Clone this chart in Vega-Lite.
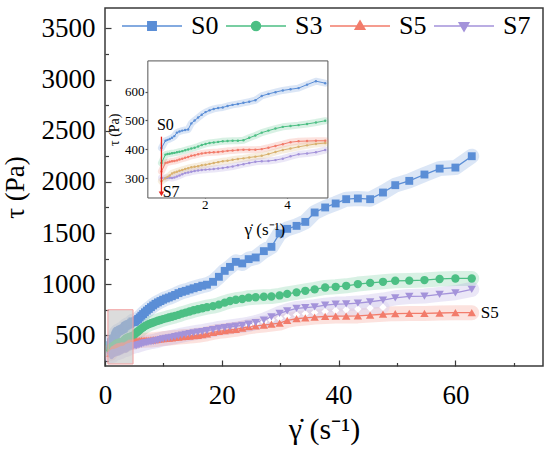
{
  "$schema": "https://vega.github.io/schema/vega-lite/v6.json",
  "width": 438,
  "height": 358,
  "autosize": {"type": "none"},
  "padding": {"left": 105, "top": 8, "right": 7, "bottom": 88},
  "background": "white",
  "datasets": {
    "curves": [
      {"x": 0.95, "S0": 405, "S3": 353, "S5": 324, "S7": 301, "S9": 290},
      {"x": 1.048, "S0": 430, "S3": 382, "S5": 353, "S7": 301, "S9": 300},
      {"x": 1.098, "S0": 433, "S3": 384, "S5": 355, "S7": 302, "S9": 305},
      {"x": 1.151, "S0": 436, "S3": 385, "S5": 357, "S7": 302, "S9": 310},
      {"x": 1.206, "S0": 440, "S3": 387, "S5": 359, "S7": 301, "S9": 317},
      {"x": 1.264, "S0": 446, "S3": 388, "S5": 360, "S7": 303, "S9": 320},
      {"x": 1.325, "S0": 458, "S3": 390, "S5": 362, "S7": 306, "S9": 323},
      {"x": 1.388, "S0": 462, "S3": 392, "S5": 365, "S7": 310, "S9": 326},
      {"x": 1.455, "S0": 465, "S3": 394, "S5": 368, "S7": 314, "S9": 329},
      {"x": 1.525, "S0": 467, "S3": 397, "S5": 371, "S7": 318, "S9": 332},
      {"x": 1.598, "S0": 469, "S3": 400, "S5": 374, "S7": 320, "S9": 335},
      {"x": 1.675, "S0": 490, "S3": 403, "S5": 378, "S7": 323, "S9": 338},
      {"x": 1.755, "S0": 500, "S3": 406, "S5": 380, "S7": 325, "S9": 340},
      {"x": 1.84, "S0": 510, "S3": 410, "S5": 383, "S7": 327, "S9": 342},
      {"x": 1.928, "S0": 520, "S3": 415, "S5": 386, "S7": 329, "S9": 345},
      {"x": 2.02, "S0": 529, "S3": 419, "S5": 388, "S7": 330, "S9": 347},
      {"x": 2.117, "S0": 535, "S3": 422, "S5": 389, "S7": 331, "S9": 350},
      {"x": 2.219, "S0": 540, "S3": 424, "S5": 390, "S7": 332, "S9": 353},
      {"x": 2.326, "S0": 543, "S3": 426, "S5": 391, "S7": 334, "S9": 356},
      {"x": 2.437, "S0": 545, "S3": 428, "S5": 393, "S7": 336, "S9": 359},
      {"x": 2.554, "S0": 550, "S3": 429, "S5": 395, "S7": 338, "S9": 361},
      {"x": 2.677, "S0": 554, "S3": 430, "S5": 396, "S7": 341, "S9": 364},
      {"x": 2.805, "S0": 557, "S3": 430, "S5": 398, "S7": 345, "S9": 367},
      {"x": 2.94, "S0": 561, "S3": 432, "S5": 399, "S7": 349, "S9": 369},
      {"x": 3.081, "S0": 565, "S3": 440, "S5": 399, "S7": 353, "S9": 372},
      {"x": 3.229, "S0": 570, "S3": 448, "S5": 399, "S7": 357, "S9": 375},
      {"x": 3.384, "S0": 585, "S3": 458, "S5": 401, "S7": 359, "S9": 378},
      {"x": 3.547, "S0": 592, "S3": 465, "S5": 406, "S7": 360, "S9": 384},
      {"x": 3.717, "S0": 598, "S3": 472, "S5": 412, "S7": 363, "S9": 391},
      {"x": 3.895, "S0": 604, "S3": 478, "S5": 418, "S7": 368, "S9": 398},
      {"x": 4.082, "S0": 608, "S3": 481, "S5": 425, "S7": 376, "S9": 403},
      {"x": 4.278, "S0": 612, "S3": 484, "S5": 428, "S7": 383, "S9": 409},
      {"x": 4.484, "S0": 624, "S3": 488, "S5": 429, "S7": 386, "S9": 414},
      {"x": 4.699, "S0": 636, "S3": 493, "S5": 430, "S7": 390, "S9": 419},
      {"x": 4.924, "S0": 629, "S3": 499, "S5": 430, "S7": 398, "S9": 422},
      {"x": 5.161, "S0": 635, "S3": 515, "S5": 440, "S7": 398, "S9": 425},
      {"x": 5.408, "S0": 648, "S3": 528, "S5": 443, "S7": 400, "S9": 428},
      {"x": 5.668, "S0": 660, "S3": 540, "S5": 446, "S7": 405, "S9": 432},
      {"x": 5.94, "S0": 675, "S3": 552, "S5": 448, "S7": 410, "S9": 437},
      {"x": 6.225, "S0": 692, "S3": 565, "S5": 450, "S7": 415, "S9": 441},
      {"x": 6.524, "S0": 708, "S3": 578, "S5": 451, "S7": 420, "S9": 446},
      {"x": 6.837, "S0": 725, "S3": 590, "S5": 452, "S7": 425, "S9": 450},
      {"x": 7.165, "S0": 742, "S3": 600, "S5": 453, "S7": 429, "S9": 455},
      {"x": 7.509, "S0": 758, "S3": 610, "S5": 454, "S7": 433, "S9": 459},
      {"x": 7.87, "S0": 775, "S3": 618, "S5": 455, "S7": 437, "S9": 463},
      {"x": 8.247, "S0": 792, "S3": 626, "S5": 457, "S7": 441, "S9": 467},
      {"x": 8.643, "S0": 808, "S3": 634, "S5": 459, "S7": 445, "S9": 471},
      {"x": 9.058, "S0": 822, "S3": 642, "S5": 462, "S7": 450, "S9": 476},
      {"x": 9.493, "S0": 835, "S3": 650, "S5": 465, "S7": 458, "S9": 480},
      {"x": 9.948, "S0": 848, "S3": 658, "S5": 468, "S7": 465, "S9": 485},
      {"x": 10.43, "S0": 860, "S3": 666, "S5": 470, "S7": 470, "S9": 490},
      {"x": 10.93, "S0": 870, "S3": 674, "S5": 473, "S7": 475, "S9": 494},
      {"x": 11.45, "S0": 882, "S3": 682, "S5": 476, "S7": 481, "S9": 499},
      {"x": 12.0, "S0": 895, "S3": 690, "S5": 479, "S7": 487, "S9": 504},
      {"x": 12.58, "S0": 912, "S3": 700, "S5": 482, "S7": 494, "S9": 510},
      {"x": 13.18, "S0": 925, "S3": 712, "S5": 486, "S7": 502, "S9": 515},
      {"x": 13.81, "S0": 935, "S3": 722, "S5": 489, "S7": 509, "S9": 520},
      {"x": 14.48, "S0": 948, "S3": 733, "S5": 492, "S7": 516, "S9": 526},
      {"x": 15.17, "S0": 960, "S3": 745, "S5": 496, "S7": 523, "S9": 532},
      {"x": 15.9, "S0": 972, "S3": 755, "S5": 500, "S7": 530, "S9": 538},
      {"x": 16.66, "S0": 985, "S3": 765, "S5": 507, "S7": 537, "S9": 545},
      {"x": 17.46, "S0": 995, "S3": 775, "S5": 515, "S7": 545, "S9": 552},
      {"x": 18.5, "S0": 1023, "S3": 785, "S5": 528, "S7": 555, "S9": 560},
      {"x": 19.5, "S0": 1072, "S3": 800, "S5": 538, "S7": 568, "S9": 570},
      {"x": 20.5, "S0": 1130, "S3": 820, "S5": 545, "S7": 575, "S9": 572},
      {"x": 21.4, "S0": 1169, "S3": 835, "S5": 552, "S7": 582, "S9": 578},
      {"x": 22.4, "S0": 1218, "S3": 848, "S5": 558, "S7": 590, "S9": 584},
      {"x": 23.5, "S0": 1203, "S3": 855, "S5": 570, "S7": 598, "S9": 590},
      {"x": 24.6, "S0": 1245, "S3": 868, "S5": 584, "S7": 610, "S9": 600},
      {"x": 25.8, "S0": 1261, "S3": 872, "S5": 592, "S7": 625, "S9": 615},
      {"x": 27.2, "S0": 1323, "S3": 877, "S5": 600, "S7": 649, "S9": 632},
      {"x": 28.5, "S0": 1365, "S3": 880, "S5": 610, "S7": 680, "S9": 650},
      {"x": 29.9, "S0": 1496, "S3": 890, "S5": 620, "S7": 715, "S9": 668},
      {"x": 31.2, "S0": 1541, "S3": 905, "S5": 645, "S7": 740, "S9": 685},
      {"x": 32.8, "S0": 1570, "S3": 920, "S5": 662, "S7": 763, "S9": 700},
      {"x": 34.3, "S0": 1609, "S3": 935, "S5": 670, "S7": 770, "S9": 712},
      {"x": 35.9, "S0": 1701, "S3": 949, "S5": 678, "S7": 779, "S9": 722},
      {"x": 37.7, "S0": 1750, "S3": 968, "S5": 684, "S7": 795, "S9": 733},
      {"x": 39.5, "S0": 1789, "S3": 974, "S5": 688, "S7": 805, "S9": 742},
      {"x": 41.3, "S0": 1831, "S3": 984, "S5": 688, "S7": 808, "S9": 750},
      {"x": 43.3, "S0": 1838, "S3": 1001, "S5": 690, "S7": 815, "S9": 758},
      {"x": 45.4, "S0": 1831, "S3": 1013, "S5": 698, "S7": 828, "S9": 766},
      {"x": 47.6, "S0": 1896, "S3": 1023, "S5": 706, "S7": 845, "S9": 774},
      {"x": 49.7, "S0": 1968, "S3": 1033, "S5": 712, "S7": 867},
      {"x": 52.1, "S0": 2010, "S3": 1035, "S5": 714, "S7": 880},
      {"x": 54.7, "S0": 2072, "S3": 1040, "S5": 714, "S7": 884},
      {"x": 57.3, "S0": 2130, "S3": 1051, "S5": 718, "S7": 900},
      {"x": 60.0, "S0": 2140, "S3": 1056, "S5": 721, "S7": 916},
      {"x": 62.8, "S0": 2251, "S3": 1056, "S5": 721, "S7": 949}
    ]
  },
  "data": {"name": "curves"},
  "transform": [
    {"fold": ["S0", "S3", "S5", "S7", "S9"], "as": ["series", "tau"]},
    {"filter": "isValid(datum.tau)"}
  ],
  "config": {
    "view": {"stroke": "#3a3a3a", "strokeWidth": 1.5},
    "font": "Liberation Serif",
    "axis": {
      "grid": false,
      "domain": false,
      "tickColor": "#3a3a3a",
      "tickWidth": 1.2,
      "labelColor": "black",
      "titleColor": "black",
      "labelFont": "Liberation Serif",
      "titleFont": "Liberation Serif",
      "titleFontWeight": "normal",
      "labelFlush": false,
      "labelOverlap": false
    },
    "text": {"font": "Liberation Serif", "color": "black"}
  },
  "resolve": {"scale": {"x": "independent", "y": "independent"}},
  "layer": [
    {
      "layer": [
        {
          "transform": [{"filter": "datum.x < 0"}],
          "mark": {"type": "point", "filled": true, "opacity": 1},
          "encoding": {
            "x": {"field": "x", "type": "quantitative", "scale": {"domain": [0, 75], "nice": false, "zero": false}},
            "y": {"field": "tau", "type": "quantitative", "scale": {"domain": [200, 3700], "nice": false, "zero": false}},
            "color": {
              "field": "series", "type": "nominal",
              "scale": {"domain": ["S0", "S3", "S5", "S7", "S9"], "range": ["#5B8ED6", "#4CBF84", "#F27C6B", "#A493DA", "#D9B26F"]},
              "legend": {
                "orient": "none", "legendX": 16, "legendY": -13, "direction": "horizontal", "title": null, "padding": 0,
                "values": ["S0", "S3", "S5", "S7"], "symbolSize": 3600, "symbolStrokeWidth": 1.5, "symbolOpacity": 1,
                "labelFont": "Liberation Serif", "labelFontSize": 26, "labelColor": "black", "labelOffset": 8, "columnPadding": 4
              }
            },
            "stroke": {
              "field": "series", "type": "nominal",
              "scale": {"domain": ["S0", "S3", "S5", "S7", "S9"], "range": ["#5B8ED6", "#4CBF84", "#F27C6B", "#A493DA", "#D9B26F"]},
              "legend": {
                "orient": "none", "legendX": 16, "legendY": -13, "direction": "horizontal", "title": null, "padding": 0,
                "values": ["S0", "S3", "S5", "S7"], "symbolSize": 3600, "symbolStrokeWidth": 1.5, "symbolOpacity": 1,
                "labelFont": "Liberation Serif", "labelFontSize": 26, "labelColor": "black", "labelOffset": 8, "columnPadding": 4
              }
            },
            "shape": {
              "field": "series", "type": "nominal",
              "scale": {
                "domain": ["S0", "S3", "S5", "S7", "S9"],
                "range": [
                  "M-1,0H1M-0.14,-0.14H0.14V0.14H-0.14Z",
                  "M-1,0H1M-0.15,0A0.15,0.15 0 1,0 0.15,0A0.15,0.15 0 1,0 -0.15,0Z",
                  "M-1,0H1M0,-0.17L0.16,0.11L-0.16,0.11Z",
                  "M-1,0H1M0,0.17L0.16,-0.11L-0.16,-0.11Z",
                  "M-1,0H1M-0.14,0L0,-0.14L0.14,0L0,0.14Z"
                ]
              },
              "legend": {
                "orient": "none", "legendX": 16, "legendY": -13, "direction": "horizontal", "title": null, "padding": 0,
                "values": ["S0", "S3", "S5", "S7"], "symbolSize": 3600, "symbolStrokeWidth": 1.5, "symbolOpacity": 1,
                "labelFont": "Liberation Serif", "labelFontSize": 26, "labelColor": "black", "labelOffset": 8, "columnPadding": 4
              }
            }
          }
        },
        {
          "transform": [{"filter": "datum.series != 'S9'"}],
          "mark": {"type": "line", "strokeWidth": 15, "opacity": 0.22, "strokeCap": "round", "strokeJoin": "round", "clip": true},
          "encoding": {
            "x": {
              "field": "x", "type": "quantitative",
              "scale": {"domain": [0, 75], "nice": false, "zero": false},
              "axis": {
                "values": [0, 20, 40, 60],
                "tickSize": -6,
                "labelFontSize": 27,
                "labelPadding": 22,
                "title": "γ̇ (s⁻¹)",
                "titleFontSize": 30,
                "titlePadding": 6
              }
            },
            "y": {
              "field": "tau", "type": "quantitative",
              "scale": {"domain": [200, 3700], "nice": false, "zero": false},
              "axis": {
                "values": [500, 1000, 1500, 2000, 2500, 3000, 3500],
                "format": "d",
                "tickSize": -6,
                "labelFontSize": 27,
                "labelPadding": 16,
                "title": "τ (Pa)",
                "titleFontSize": 27,
                "titlePadding": 12
              }
            },
            "detail": {"field": "series"},
            "color": {
              "condition": [
                {"test": "datum.series == 'S0'", "value": "#5B8ED6"},
                {"test": "datum.series == 'S3'", "value": "#4CBF84"},
                {"test": "datum.series == 'S5'", "value": "#F27C6B"}
              ],
              "value": "#A493DA"
            },
            "order": {"field": "x"}
          }
        },
        {
          "transform": [{"filter": "datum.series == 'S9' && datum.x >= 24"}],
          "mark": {"type": "line", "strokeWidth": 13, "opacity": 0.5, "color": "#DCD5F0", "strokeCap": "round", "strokeJoin": "round", "clip": true},
          "encoding": {
            "x": {"field": "x", "type": "quantitative", "scale": {"domain": [0, 75], "nice": false, "zero": false}},
            "y": {"field": "tau", "type": "quantitative", "scale": {"domain": [200, 3700], "nice": false, "zero": false}},
            "order": {"field": "x"}
          }
        },
        {
          "transform": [{"filter": "datum.series != 'S9'"}],
          "mark": {"type": "line", "strokeWidth": 1.3, "clip": true},
          "encoding": {
            "x": {"field": "x", "type": "quantitative", "scale": {"domain": [0, 75], "nice": false, "zero": false}},
            "y": {"field": "tau", "type": "quantitative", "scale": {"domain": [200, 3700], "nice": false, "zero": false}},
            "color": {"field": "series", "type": "nominal"},
            "order": {"field": "x"}
          }
        },
        {
          "transform": [{"filter": "datum.series == 'S9' && datum.x >= 24"}],
          "mark": {"type": "point", "shape": "diamond", "filled": true, "color": "white", "size": 55, "opacity": 1, "clip": true},
          "encoding": {
            "x": {"field": "x", "type": "quantitative", "scale": {"domain": [0, 75], "nice": false, "zero": false}},
            "y": {"field": "tau", "type": "quantitative", "scale": {"domain": [200, 3700], "nice": false, "zero": false}}
          }
        },
        {
          "transform": [{"filter": "datum.series == 'S0'"}],
          "mark": {"type": "point", "shape": "square", "filled": true, "size": 62, "opacity": 1, "clip": true},
          "encoding": {
            "x": {"field": "x", "type": "quantitative", "scale": {"domain": [0, 75], "nice": false, "zero": false}},
            "y": {"field": "tau", "type": "quantitative", "scale": {"domain": [200, 3700], "nice": false, "zero": false}},
            "color": {"field": "series", "type": "nominal"}
          }
        },
        {
          "transform": [{"filter": "datum.series == 'S3'"}],
          "mark": {"type": "point", "shape": "circle", "filled": true, "size": 70, "opacity": 1, "clip": true},
          "encoding": {
            "x": {"field": "x", "type": "quantitative", "scale": {"domain": [0, 75], "nice": false, "zero": false}},
            "y": {"field": "tau", "type": "quantitative", "scale": {"domain": [200, 3700], "nice": false, "zero": false}},
            "color": {"field": "series", "type": "nominal"}
          }
        },
        {
          "transform": [{"filter": "datum.series == 'S5'"}],
          "mark": {"type": "point", "shape": "triangle-up", "filled": true, "size": 70, "opacity": 1, "clip": true},
          "encoding": {
            "x": {"field": "x", "type": "quantitative", "scale": {"domain": [0, 75], "nice": false, "zero": false}},
            "y": {"field": "tau", "type": "quantitative", "scale": {"domain": [200, 3700], "nice": false, "zero": false}},
            "color": {"field": "series", "type": "nominal"}
          }
        },
        {
          "transform": [{"filter": "datum.series == 'S7'"}],
          "mark": {"type": "point", "shape": "triangle-down", "filled": true, "size": 70, "opacity": 1, "clip": true},
          "encoding": {
            "x": {"field": "x", "type": "quantitative", "scale": {"domain": [0, 75], "nice": false, "zero": false}},
            "y": {"field": "tau", "type": "quantitative", "scale": {"domain": [200, 3700], "nice": false, "zero": false}},
            "color": {"field": "series", "type": "nominal"}
          }
        },
        {
          "data": {"values": [{}]},
          "mark": {"type": "rect", "fill": "#C4C4C4", "fillOpacity": 0.6, "stroke": "#F4A0A0", "strokeWidth": 1},
          "encoding": {
            "x": {"datum": 0.5, "type": "quantitative", "scale": {"domain": [0, 75], "nice": false, "zero": false}},
            "x2": {"datum": 4.8},
            "y": {"datum": 220, "type": "quantitative", "scale": {"domain": [200, 3700], "nice": false, "zero": false}},
            "y2": {"datum": 750}
          }
        },
        {
          "transform": [{"filter": "datum.series == 'S5' && datum.x > 62"}],
          "mark": {"type": "text", "align": "left", "baseline": "middle", "dx": 9, "fontSize": 17},
          "encoding": {
            "x": {"field": "x", "type": "quantitative", "scale": {"domain": [0, 75], "nice": false, "zero": false}},
            "y": {"field": "tau", "type": "quantitative", "scale": {"domain": [200, 3700], "nice": false, "zero": false}},
            "text": {"field": "series"}
          }
        }
      ]
    },
    {
      "layer": [
        {
          "data": {"values": [{}]},
          "mark": {"type": "rect", "fill": "white", "stroke": "#555555", "strokeWidth": 1},
          "encoding": {
            "x": {
              "datum": 0.62, "type": "quantitative",
              "scale": {"domain": [-0.42, 10.21], "nice": false, "zero": false},
              "axis": {
                "orient": "bottom", "offset": -168, "values": [2, 4],
                "tickSize": -3, "tickColor": "#555555",
                "labelFontSize": 13, "labelPadding": 3, "title": null
              }
            },
            "x2": {"datum": 4.99},
            "y": {
              "datum": 232, "type": "quantitative",
              "scale": {"domain": [-349, 889], "nice": false, "zero": false},
              "axis": {
                "orient": "left", "offset": -43, "values": [300, 400, 500, 600],
                "tickSize": 3, "tickColor": "#555555",
                "labelFontSize": 13, "labelPadding": 1, "title": null
              }
            },
            "y2": {"datum": 706}
          }
        },
        {
          "transform": [{"filter": "datum.x <= 4.95"}],
          "mark": {"type": "line", "strokeWidth": 7, "opacity": 0.22, "strokeCap": "round", "strokeJoin": "round"},
          "encoding": {
            "x": {"field": "x", "type": "quantitative", "scale": {"domain": [-0.42, 10.21], "nice": false, "zero": false}},
            "y": {"field": "tau", "type": "quantitative", "scale": {"domain": [-349, 889], "nice": false, "zero": false}},
            "detail": {"field": "series"},
            "color": {
              "condition": [
                {"test": "datum.series == 'S0'", "value": "#5B8ED6"},
                {"test": "datum.series == 'S3'", "value": "#4CBF84"},
                {"test": "datum.series == 'S5'", "value": "#F27C6B"},
                {"test": "datum.series == 'S9'", "value": "#D9B26F"}
              ],
              "value": "#A493DA"
            },
            "order": {"field": "x"}
          }
        },
        {
          "transform": [{"filter": "datum.x <= 4.95"}],
          "mark": {"type": "line", "strokeWidth": 1},
          "encoding": {
            "x": {"field": "x", "type": "quantitative", "scale": {"domain": [-0.42, 10.21], "nice": false, "zero": false}},
            "y": {"field": "tau", "type": "quantitative", "scale": {"domain": [-349, 889], "nice": false, "zero": false}},
            "color": {"field": "series", "type": "nominal"},
            "order": {"field": "x"}
          }
        },
        {
          "transform": [{"filter": "datum.x <= 4.95"}],
          "mark": {"type": "point", "shape": "circle", "filled": true, "size": 6, "opacity": 1},
          "encoding": {
            "x": {"field": "x", "type": "quantitative", "scale": {"domain": [-0.42, 10.21], "nice": false, "zero": false}},
            "y": {"field": "tau", "type": "quantitative", "scale": {"domain": [-349, 889], "nice": false, "zero": false}},
            "color": {"field": "series", "type": "nominal"}
          }
        },
        {
          "data": {"values": [{}]},
          "mark": {"type": "rule", "color": "#E5231B", "strokeWidth": 1.3},
          "encoding": {
            "x": {"datum": 0.95, "type": "quantitative", "scale": {"domain": [-0.42, 10.21], "nice": false, "zero": false}},
            "y": {"datum": 444, "type": "quantitative", "scale": {"domain": [-349, 889], "nice": false, "zero": false}},
            "y2": {"datum": 245}
          }
        },
        {
          "data": {"values": [{}]},
          "mark": {"type": "point", "shape": "triangle-down", "filled": true, "color": "#E5231B", "size": 30, "opacity": 1},
          "encoding": {
            "x": {"datum": 0.95, "type": "quantitative", "scale": {"domain": [-0.42, 10.21], "nice": false, "zero": false}},
            "y": {"datum": 246, "type": "quantitative", "scale": {"domain": [-349, 889], "nice": false, "zero": false}}
          }
        },
        {
          "data": {"values": [{}]},
          "mark": {"type": "text", "text": "S0", "align": "left", "baseline": "middle", "fontSize": 16},
          "encoding": {
            "x": {"datum": 0.84, "type": "quantitative", "scale": {"domain": [-0.42, 10.21], "nice": false, "zero": false}},
            "y": {"datum": 485, "type": "quantitative", "scale": {"domain": [-349, 889], "nice": false, "zero": false}}
          }
        },
        {
          "data": {"values": [{}]},
          "mark": {"type": "text", "text": "S7", "align": "left", "baseline": "middle", "fontSize": 16},
          "encoding": {
            "x": {"datum": 0.98, "type": "quantitative", "scale": {"domain": [-0.42, 10.21], "nice": false, "zero": false}},
            "y": {"datum": 254, "type": "quantitative", "scale": {"domain": [-349, 889], "nice": false, "zero": false}}
          }
        },
        {
          "data": {"values": [{}]},
          "mark": {"type": "text", "text": "τ (Pa)", "align": "center", "baseline": "middle", "angle": 270, "fontSize": 14},
          "encoding": {
            "x": {"datum": -0.18, "type": "quantitative", "scale": {"domain": [-0.42, 10.21], "nice": false, "zero": false}},
            "y": {"datum": 468, "type": "quantitative", "scale": {"domain": [-349, 889], "nice": false, "zero": false}}
          }
        },
        {
          "data": {"values": [{}]},
          "mark": {"type": "text", "text": "γ̇ (s⁻¹)", "align": "center", "baseline": "middle", "fontSize": 17},
          "encoding": {
            "x": {"datum": 3.46, "type": "quantitative", "scale": {"domain": [-0.42, 10.21], "nice": false, "zero": false}},
            "y": {"datum": 123, "type": "quantitative", "scale": {"domain": [-349, 889], "nice": false, "zero": false}}
          }
        }
      ]
    },
    {
      "data": {"values": [{}]},
      "mark": {"type": "point", "opacity": 0},
      "encoding": {
        "x": {
          "datum": 1, "type": "quantitative",
          "scale": {"domain": [0, 75], "nice": false, "zero": false},
          "axis": {"orient": "bottom", "values": [10, 30, 50, 70], "tickSize": -3.5, "labels": false, "title": null}
        },
        "y": {
          "datum": 300, "type": "quantitative",
          "scale": {"domain": [200, 3700], "nice": false, "zero": false},
          "axis": {"orient": "left", "values": [250, 750, 1250, 1750, 2250, 2750, 3250], "tickSize": -3.5, "labels": false, "title": null}
        }
      }
    }
  ]
}
